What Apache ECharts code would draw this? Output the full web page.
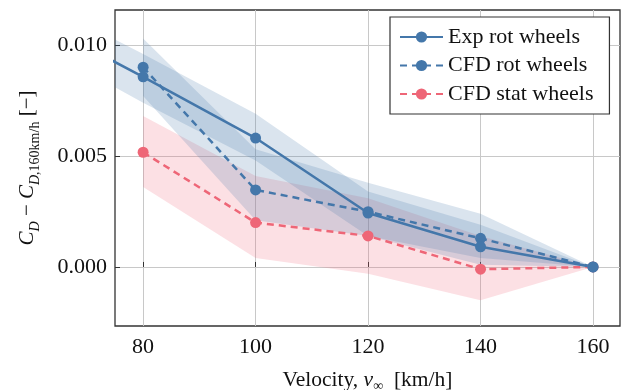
<!DOCTYPE html>
<html>
<head>
<meta charset="utf-8">
<script src="https://cdn.jsdelivr.net/npm/echarts@6/dist/echarts.min.js"></script>
<style>
html,body{margin:0;padding:0;background:#fff;}
#chart{width:621px;height:390px;}
</style>
</head>
<body>
<div id="chart"></div>
<script>
// ---- data ----
const xTicks = [80, 100, 120, 140, 160];
const yTicks = [0.000, 0.005, 0.010];

const expX = [70, 80, 100, 120, 140, 160];
const expVals  = [0.0099, 0.00857, 0.00581, 0.00243, 0.00091, 0];
const expUpper = [0.0109, 0.0096, 0.0069, 0.0034, 0.0019, 0];
const expLower = [0.0088, 0.0074, 0.0048, 0.0014, 0.0001, 0];

const cfdX = [80, 100, 120, 140, 160];
const cfdRotVals  = [0.0090, 0.00347, 0.00249, 0.00129, 0];
const cfdRotUpper = [0.0103, 0.0053, 0.0038, 0.0024, 0];
const cfdRotLower = [0.0077, 0.0021, 0.0014, 0.0004, 0];

const cfdStatVals  = [0.00517, 0.0020, 0.0014, -0.0001, 0];
const cfdStatUpper = [0.0068, 0.0041, 0.0031, 0.0014, 0];
const cfdStatLower = [0.0036, 0.0004, -0.0003, -0.0015, 0];

const names = ['Exp rot wheels', 'CFD rot wheels', 'CFD stat wheels'];
const BLUE = '#4477AA', PINK = '#EE6677';
const FONT = "'Liberation Serif', 'DejaVu Serif', serif";
const FS = 22;

function pairs(xs, ys) { return xs.map((x, i) => [x, ys[i]]); }
function band(xs, lo, hi, color) {
  return {
    type: 'custom', silent: true, z: 1, clip: true,
    data: [[xs[0], lo[0]]],
    renderItem: function (params, api) {
      const pts = [];
      for (let i = 0; i < xs.length; i++) pts.push(api.coord([xs[i], hi[i]]));
      for (let i = xs.length - 1; i >= 0; i--) pts.push(api.coord([xs[i], lo[i]]));
      return { type: 'polygon', shape: { points: pts }, style: { fill: color } };
    }
  };
}
function line(name, xs, ys, color, dashed) {
  return { name: name, type: 'line', data: pairs(xs, ys), symbol: 'circle', symbolSize: 11,
    itemStyle: { color: color }, lineStyle: { color: color, width: 2.5, type: dashed ? [7, 5] : 'solid' },
    z: 5, clip: true };
}

const chart = echarts.init(document.getElementById('chart'));
chart.setOption({
  animation: false,
  backgroundColor: '#fff',
  grid: { left: 115, right: 1, top: 10, bottom: 64, show: true, borderColor: '#333', borderWidth: 1.3,
          outerBoundsMode: 'none', containLabel: false },
  legend: {
    data: names, orient: 'vertical', left: 390, top: 17,
    backgroundColor: '#fff', borderColor: '#333', borderWidth: 1.2,
    padding: [9, 16, 9, 9], itemWidth: 43, itemHeight: 14, itemGap: 6.5,
    textStyle: { fontFamily: FONT, fontSize: FS, lineHeight: 22, color: '#111' }
  },
  xAxis: {
    type: 'value', min: 75, max: 164.8,
    axisLine: { show: false },
    axisTick: { show: true, inside: true, length: 5, lineStyle: { color: '#333' }, customValues: xTicks },
    axisLabel: { customValues: xTicks, fontFamily: FONT, fontSize: FS, color: '#111', margin: 10 },
    splitLine: { show: true, lineStyle: { color: '#c8c8c8', width: 1 } },
    name: 'Velocity, {i|v}{s|∞}  [km/h]', nameLocation: 'middle', nameGap: 41,
    nameTextStyle: { fontFamily: FONT, fontSize: 21.5, color: '#111',
      rich: { i: { fontFamily: FONT, fontSize: 21.5, fontStyle: 'italic', color: '#111', lineHeight: 26 },
              s: { fontFamily: FONT, fontSize: 14, color: '#111', lineHeight: 26, verticalAlign: 'bottom' } } }
  },
  yAxis: {
    type: 'value', min: -0.00266, max: 0.01158,
    axisLine: { show: false },
    axisTick: { show: true, inside: true, length: 5, lineStyle: { color: '#333' }, customValues: yTicks },
    axisLabel: { customValues: yTicks, formatter: v => v.toFixed(3), fontFamily: FONT, fontSize: FS, color: '#111', margin: 8 },
    splitLine: { show: true, lineStyle: { color: '#c8c8c8', width: 1 } },
    name: '{i|C}{si|D} − {i|C}{si|D}{s|,160km/h} [−]', nameLocation: 'middle', nameGap: 73,
    nameTextStyle: { fontFamily: FONT, fontSize: 21, color: '#111',
      rich: { i: { fontFamily: FONT, fontSize: 21, fontStyle: 'italic', color: '#111', lineHeight: 30 },
              si: { fontFamily: FONT, fontSize: 14, fontStyle: 'italic', color: '#111', lineHeight: 30, verticalAlign: 'bottom' },
              s: { fontFamily: FONT, fontSize: 14, color: '#111', lineHeight: 30, verticalAlign: 'bottom' } } }
  },
  series: [
    band(cfdX, cfdStatLower, cfdStatUpper, 'rgba(238,102,119,0.2)'),
    band(expX, expLower, expUpper, 'rgba(68,119,170,0.2)'),
    band(cfdX, cfdRotLower, cfdRotUpper, 'rgba(68,119,170,0.2)'),
    line(names[2], cfdX, cfdStatVals, PINK, true),
    line(names[1], cfdX, cfdRotVals, BLUE, true),
    line(names[0], expX, expVals, BLUE, false)
  ]
});
</script>
</body>
</html>
